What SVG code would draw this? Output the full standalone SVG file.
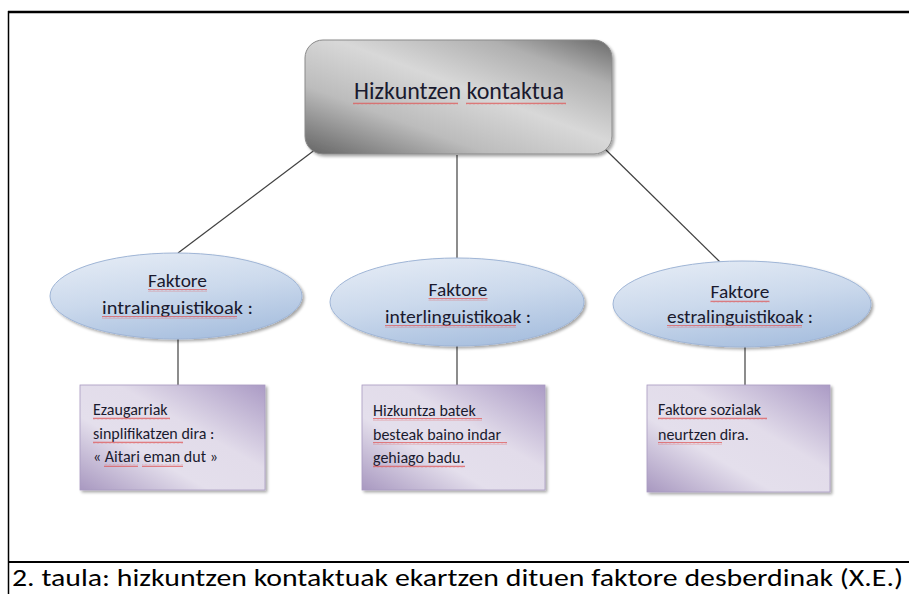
<svg xmlns="http://www.w3.org/2000/svg" width="909" height="594" viewBox="0 0 909 594">
<defs>
<linearGradient id="gGrey" x1="0" y1="1" x2="1" y2="0">
<stop offset="0" stop-color="#646464"/>
<stop offset="0.3" stop-color="#bcbcbc"/>
<stop offset="0.55" stop-color="#d8d8d8"/>
<stop offset="0.8" stop-color="#b0b0b0"/>
<stop offset="1" stop-color="#6a6a6a"/>
</linearGradient>
<linearGradient id="gBlue" x1="0.2" y1="0" x2="0.6" y2="1">
<stop offset="0" stop-color="#e4ebf5"/>
<stop offset="0.5" stop-color="#cbd9ec"/>
<stop offset="1" stop-color="#a9c0df"/>
</linearGradient>
<linearGradient id="gPurple" x1="0" y1="1" x2="1" y2="0">
<stop offset="0" stop-color="#a898c0"/>
<stop offset="0.35" stop-color="#e4dfec"/>
<stop offset="0.6" stop-color="#e2dcea"/>
<stop offset="1" stop-color="#ab9bc5"/>
</linearGradient>
<pattern id="wave" width="4" height="3" patternUnits="userSpaceOnUse">
<path d="M0 2.3 L1 0.7 L2 2.3 L3 0.7 L4 2.3" fill="none" stroke="#e05050" stroke-width="0.7"/>
</pattern>
<filter id="sh" x="-10%" y="-10%" width="130%" height="130%">
<feGaussianBlur in="SourceAlpha" stdDeviation="1.5"/>
<feOffset dx="2" dy="2" result="b"/>
<feComponentTransfer><feFuncA type="linear" slope="0.35"/></feComponentTransfer>
<feMerge><feMergeNode/><feMergeNode in="SourceGraphic"/></feMerge>
</filter>
</defs>
<style>
.frame{stroke:#000;fill:none}
.conn{stroke:#404040;stroke-width:1.2;fill:none}
.t{font-family:"Carlito","Liberation Sans","DejaVu Sans",sans-serif;fill:#1a1a2e}
.ell{fill:url(#gBlue);stroke:#9fb5d6;stroke-width:1}
.box{fill:url(#gPurple);stroke:#a99bc0;stroke-width:0.8}
.wv{fill:url(#wave)}
</style>
<rect width="909" height="594" fill="#fff"/>
<g id="frame">
<line class="frame" x1="8" y1="12" x2="909" y2="12" stroke-width="2.5"/>
<line class="frame" x1="8.5" y1="11" x2="8.5" y2="594" stroke-width="1.5"/>
<line class="frame" x1="8" y1="562" x2="909" y2="562" stroke-width="2"/>
</g>
<g id="connectors">
<line class="conn" x1="316" y1="149" x2="178" y2="253"/>
<line class="conn" x1="457" y1="155" x2="457" y2="259"/>
<line class="conn" x1="605" y1="149" x2="720" y2="262"/>
<line class="conn" x1="178" y1="339" x2="178" y2="385"/>
<line class="conn" x1="457" y1="346" x2="457" y2="385"/>
<line class="conn" x1="745" y1="347" x2="745" y2="385"/>
</g>
<g id="root">
<rect x="305" y="40" width="307" height="114" rx="18" fill="url(#gGrey)" stroke="#8a8a8a" filter="url(#sh)"/>
<text class="t" x="459" y="99" font-size="24" text-anchor="middle">Hizkuntzen kontaktua</text>
<rect class="wv" x="353" y="102" width="105" height="3"/>
<rect class="wv" x="466" y="102" width="100" height="3"/>
</g>
<g id="n1">
<ellipse class="ell" cx="176" cy="296" rx="126" ry="43" filter="url(#sh)"/>
<text class="t" x="177.5" y="287" font-size="19" text-anchor="middle" textLength="59" lengthAdjust="spacingAndGlyphs">Faktore</text>
<text class="t" x="177.5" y="314" font-size="19" text-anchor="middle" textLength="151" lengthAdjust="spacingAndGlyphs">intralinguistikoak :</text>
<rect class="wv" x="148" y="289" width="59" height="3"/>
<rect class="wv" x="102" y="316" width="135" height="3"/>
</g>
<g id="n2">
<ellipse class="ell" cx="457" cy="302" rx="127" ry="44" filter="url(#sh)"/>
<text class="t" x="458" y="296" font-size="19" text-anchor="middle" textLength="59" lengthAdjust="spacingAndGlyphs">Faktore</text>
<text class="t" x="458" y="323" font-size="19" text-anchor="middle" textLength="146" lengthAdjust="spacingAndGlyphs">interlinguistikoak :</text>
<rect class="wv" x="428.5" y="298" width="59" height="3"/>
<rect class="wv" x="385" y="325" width="131" height="3"/>
</g>
<g id="n3">
<ellipse class="ell" cx="742" cy="304" rx="129" ry="43" filter="url(#sh)"/>
<text class="t" x="740" y="298" font-size="19" text-anchor="middle" textLength="59" lengthAdjust="spacingAndGlyphs">Faktore</text>
<text class="t" x="740" y="323" font-size="19" text-anchor="middle" textLength="146" lengthAdjust="spacingAndGlyphs">estralinguistikoak :</text>
<rect class="wv" x="710.5" y="300" width="59" height="3"/>
<rect class="wv" x="667" y="325" width="135" height="3"/>
</g>
<g id="b1">
<rect class="box" x="80" y="385" width="185" height="105" filter="url(#sh)"/>
<text class="t" x="93" y="415" font-size="16">Ezaugarriak</text>
<text class="t" x="93" y="439" font-size="16">sinplifikatzen dira :</text>
<text class="t" x="93" y="462" font-size="16">« Aitari eman dut »</text>
<rect class="wv" x="93" y="417" width="77" height="3"/>
<rect class="wv" x="93" y="441" width="90" height="3"/>
<rect class="wv" x="104" y="464" width="34" height="3"/>
<rect class="wv" x="142" y="464" width="41" height="3"/>
</g>
<g id="b2">
<rect class="box" x="362" y="385" width="183" height="105" filter="url(#sh)"/>
<text class="t" x="373" y="416" font-size="16">Hizkuntza batek</text>
<text class="t" x="373" y="440" font-size="16">besteak baino indar</text>
<text class="t" x="373" y="463" font-size="16">gehiago badu.</text>
<rect class="wv" x="373" y="418" width="109" height="3"/>
<rect class="wv" x="373" y="442" width="134" height="3"/>
<rect class="wv" x="373" y="465" width="92" height="3"/>
</g>
<g id="b3">
<rect class="box" x="647" y="385" width="183" height="107" filter="url(#sh)"/>
<text class="t" x="658" y="415" font-size="16">Faktore sozialak</text>
<text class="t" x="658" y="440" font-size="16">neurtzen dira.</text>
<rect class="wv" x="658" y="417" width="109" height="3"/>
<rect class="wv" x="658" y="442" width="64" height="3"/>
</g>
<text class="t" x="12" y="586" font-size="24" textLength="891" lengthAdjust="spacingAndGlyphs" style="fill:#000">2. taula: hizkuntzen kontaktuak ekartzen dituen faktore desberdinak (X.E.)</text>
</svg>
